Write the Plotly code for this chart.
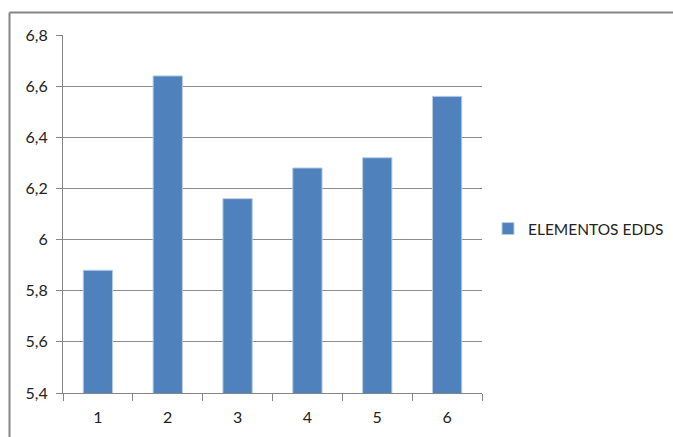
import plotly.graph_objects as go

categories = ["1", "2", "3", "4", "5", "6"]
values = [5.88, 6.64, 6.16, 6.28, 6.32, 6.56]
series_name = "ELEMENTOS EDDS"
y_ticks = [5.4, 5.6, 5.8, 6.0, 6.2, 6.4, 6.6, 6.8]

W, H = 673, 437
L, R, T, B = 63, 191, 35, 44
pw, ph = W - L - R, H - T - B


def px_x(x):
    return (x - L) / pw


def px_y(y):
    return (H - B - y) / ph


fig = go.Figure()
fig.add_trace(go.Bar(
    x=categories, y=values, name=series_name,
    marker=dict(color="#4F81BD", line=dict(color="#B9CDE5", width=1)),
    showlegend=True,
))

grey = "#868686"
fig.update_layout(
    width=W, height=H,
    margin=dict(l=L, r=R, t=T, b=B, autoexpand=False),
    paper_bgcolor="white", plot_bgcolor="white",
    separators=",.",
    font=dict(family="Lato, Open Sans, sans-serif", size=16, color="#222222"),
    bargap=0.58,
    showlegend=True,
    legend=dict(xref="container", yref="container",
                x=488 / W, y=(H - 229) / H, xanchor="left", yanchor="middle",
                font=dict(size=15.5, color="#222222"), itemwidth=30,
                bgcolor="rgba(0,0,0,0)"),
    xaxis=dict(
        type="category", showline=True, linecolor=grey, linewidth=1,
        ticks="outside", tickson="boundaries", ticklen=7, tickcolor=grey,
        showgrid=False, tickfont=dict(size=16), ticklabelstandoff=10,
    ),
    yaxis=dict(
        range=[5.4, 6.8], tickvals=y_ticks,
        ticktext=[f"{v:g}".replace(".", ",") for v in y_ticks],
        showline=True, linecolor=grey, linewidth=1,
        ticks="outside", ticklen=6, tickcolor=grey,
        showgrid=True, gridcolor="#8C8C8C", gridwidth=1,
        zeroline=False, tickfont=dict(size=16), ticklabelstandoff=5,
    ),
    shapes=[
        dict(type="line", xref="paper", yref="paper",
             x0=px_x(9.5), x1=px_x(9.5), y0=px_y(12.5), y1=px_y(437),
             line=dict(color=grey, width=2)),
        dict(type="line", xref="paper", yref="paper",
             x0=px_x(9.5), x1=px_x(673), y0=px_y(12.5), y1=px_y(12.5),
             line=dict(color=grey, width=2)),
    ],
)

fig.write_html("out.html")
